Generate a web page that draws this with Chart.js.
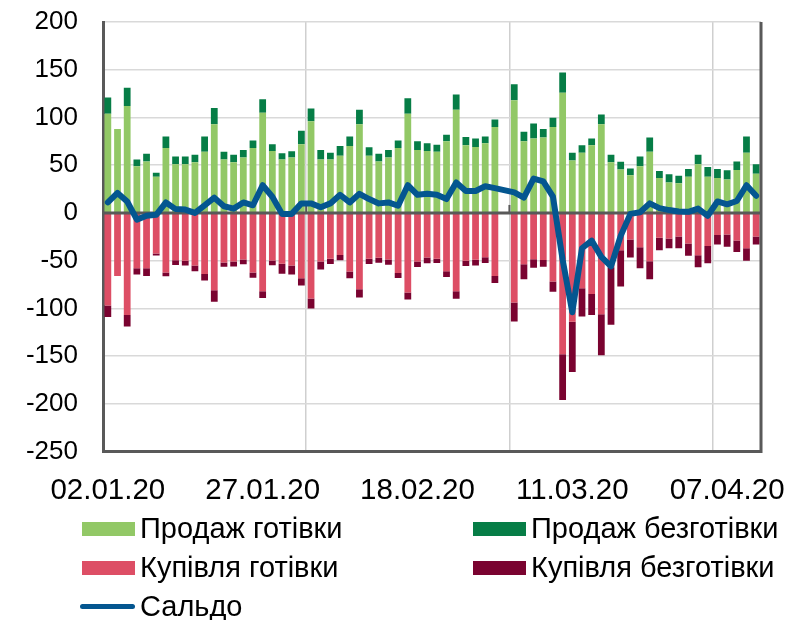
<!DOCTYPE html>
<html>
<head>
<meta charset="utf-8">
<script src="https://cdn.jsdelivr.net/npm/chart.js@4.4.0/dist/chart.umd.min.js"></script>
<style>
    html, body { margin: 0; padding: 0; background: #fff; }
    #wrap { position: relative; width: 800px; height: 620px; }
    #chart { position: absolute; left: 0; top: 0; }
    #legend {
        position: absolute; left: 82px; top: 509px;
        display: grid; grid-template-columns: 391px auto; grid-auto-rows: 39px;
        font: 29px "Liberation Sans", Arial, sans-serif; color: #000;
    }
    .legend-item { display: flex; align-items: center; white-space: nowrap; }
    .legend-box { width: 53px; height: 14px; margin-right: 5px; }
    .legend-line { width: 55px; height: 5px; border-radius: 3px; margin: 0 5px 0 -2px; }
</style>
</head>
<body>
<div id="wrap">
    <canvas id="chart" width="800" height="620"></canvas>
    <div id="legend"></div>
</div>
<script>
// Tick labels shown every 16 trading days
const tickLabels = ['02.01.20', '27.01.20', '18.02.20', '11.03.20', '07.04.20'];
const labelStep = 16;
const gridStep = 21;

// Values (mln USD), index 41 has no data
const saleCash = [104, 88, 112, 49, 54, 38, 68, 51, 51, 53, 64, 93, 56, 53, 58, 68, 105,
    65, 56, 58, 72, 96, 56, 56, 60, 70, 93, 60, 54, 58, 68, 104, 66, 65,
    64, 75, 108, 71, 69, 73, 90, null, 118, 75, 78, 79, 90, 126, 55, 63, 71,
    93, 53, 45.5, 39.6, 49, 64, 36.5, 32, 31, 38, 51, 38, 36.5, 35, 45, 63, 41];
const saleNonCash = [17, 0, 19, 7, 8, 4, 12, 8, 8, 8, 16, 17, 8, 8, 8, 8, 14,
    7, 6.5, 6.6, 14, 13.5, 10, 7, 10, 10, 15, 8.7, 8, 8, 8, 16, 9, 8,
    7.5, 7, 16, 8.5, 9, 7, 8, null, 16.7, 10, 15.6, 9, 9.7, 21, 8, 8, 7,
    10, 8, 8, 7, 10, 15, 7.5, 8.6, 8, 8, 10, 10, 9.5, 9.7, 9, 17, 10];
const buyCash = [-97, -66, -107, -58, -58, -42.5, -62.4, -49.5, -50, -55, -64, -81, -52, -51, -48.8, -62.4, -82,
    -49.8, -53.3, -55, -68.3, -89.5, -51, -48, -44, -61.3, -80, -48, -47, -48.8, -63, -83.3, -51, -46.7,
    -48, -61, -82, -50, -49, -46.5, -66, null, -93.8, -53.8, -48.6, -49.3, -71.9, -148, -114, -79, -85,
    -106, -57, -39, -27.8, -36, -50.7, -26, -26.7, -24.6, -32, -44.4, -34.7, -23, -22.6, -29, -37, -24.6];
const buyNonCash = [-12, 0, -12, -6.5, -8, -2, -4, -5, -5, -6, -6.7, -12, -4.4, -5, -5, -5.6, -7,
    -5, -10.5, -9.4, -7.7, -10.5, -8.3, -5.6, -5.6, -7, -8.7, -5.6, -5.2, -5.6, -5.2, -7.3, -5.6, -6,
    -4.5, -6, -8, -5.6, -6, -6, -7.3, null, -19.8, -15.6, -8.7, -7, -10.7, -48, -52.7, -29.5, -22,
    -43, -60, -38, -19, -22, -18.7, -13, -10.4, -12.5, -12.8, -12.5, -18, -10, -12.8, -12, -13, -8.4];
const saldo = [11, 21, 12, -7, -3, -2, 11, 4, 3.5, 0, 8, 16, 7, 4.5, 11, 8, 29,
    17, -1, -1, 10, 10, 6, 10, 19, 11, 20, 14.5, 10, 11, 7.5, 29, 19, 20,
    19, 14.5, 32, 23, 23, 28, 26, null, 21.5, 16, 36, 33, 17, -49, -104, -37, -29,
    -46, -56, -24, -1, 0.7, 10, 5, 3, 1.5, 1.2, 4.5, -3, 12, 9, 12.5, 29, 18];

const categories = saleCash.map((v, i) => i);

const fontFamily = '"Liberation Sans", Arial, sans-serif';
const axisColor = '#595959';

// Draw the zero axis (with its tick marks) above the bars, under the line
const zeroAxisPlugin = {
    id: 'zeroAxis',
    beforeDatasetDraw(chart, args) {
        if (chart.data.datasets[args.index].type !== 'line') return;
        const ctx = chart.ctx;
        const xs = chart.scales.x;
        const y0 = chart.scales.y.getPixelForValue(0);
        const area = chart.chartArea;
        ctx.save();
        ctx.strokeStyle = axisColor;
        ctx.lineWidth = 3;
        ctx.beginPath();
        ctx.moveTo(area.left, y0);
        ctx.lineTo(area.right, y0);
        ctx.stroke();
        ctx.lineWidth = 2;
        for (let i = gridStep; i < categories.length; i += gridStep) {
            const x = (xs.getPixelForValue(i - 1) + xs.getPixelForValue(i)) / 2;
            ctx.beginPath();
            ctx.moveTo(x, y0);
            ctx.lineTo(x, y0 - 8);
            ctx.stroke();
        }
        ctx.restore();
    },
    afterDraw(chart) {
        // right frame line
        const ctx = chart.ctx;
        const area = chart.chartArea;
        ctx.save();
        ctx.strokeStyle = axisColor;
        ctx.lineWidth = 3;
        ctx.beginPath();
        ctx.moveTo(area.right, area.top);
        ctx.lineTo(area.right, area.bottom + 1.5);
        ctx.stroke();
        ctx.restore();
    }
};

const barSet = (label, data, color) => ({
    type: 'bar',
    label: label,
    data: data,
    backgroundColor: color,
    borderWidth: 0,
    barPercentage: 0.7,
    categoryPercentage: 1.0,
    stack: 'flows',
    order: 1
});

const chartData = {
    labels: categories,
    datasets: [
        barSet('Продаж готівки', saleCash, '#92C866'),
        barSet('Продаж безготівки', saleNonCash, '#067D46'),
        barSet('Купівля готівки', buyCash, '#DD4E65'),
        barSet('Купівля безготівки', buyNonCash, '#7A0330'),
        {
            type: 'line',
            label: 'Сальдо',
            data: saldo,
            borderColor: '#045690',
            backgroundColor: '#045690',
            borderWidth: 6,
            pointRadius: 0,
            tension: 0,
            spanGaps: true,
            borderJoinStyle: 'round',
            borderCapStyle: 'round',
            stack: 'saldo',
            order: 0
        }
    ]
};

const chart = new Chart(document.getElementById('chart'), {
    data: chartData,
    plugins: [zeroAxisPlugin],
    options: {
        responsive: false,
        animation: false,
        layout: { padding: { left: 0, right: 39, top: 22, bottom: 89 } },
        plugins: {
            legend: { display: false },
            tooltip: { enabled: false }
        },
        scales: {
            x: {
                stacked: true,
                grid: {
                    offset: true,
                    drawTicks: false,
                    color: ctx => (ctx.index > 0 && ctx.index % gridStep === 0) ? '#cfcfcf' : 'rgba(0,0,0,0)',
                    lineWidth: 1.5
                },
                border: { display: true, color: axisColor, width: 3 },
                ticks: {
                    autoSkip: false,
                    maxRotation: 0,
                    minRotation: 0,
                    padding: 22,
                    color: '#000',
                    font: { family: fontFamily, size: 29.5 },
                    callback: (v, i) => i % labelStep === 0 ? tickLabels[i / labelStep] : ''
                }
            },
            y: {
                stacked: true,
                min: -250,
                max: 200,
                afterFit: s => {
                    s.width = 103;
                    // keep the label padding from pushing the plot down
                    s.paddingTop = 16;
                    s.paddingBottom = 16;
                },
                grid: {
                    drawTicks: false,
                    color: ctx => ctx.tick.value === 0 ? 'rgba(0,0,0,0)' : '#d9d9d9',
                    lineWidth: 1.5
                },
                border: { display: true, color: axisColor, width: 3 },
                ticks: {
                    stepSize: 50,
                    padding: 25,
                    color: '#000',
                    font: { family: fontFamily, size: 26 }
                }
            }
        }
    }
});

// HTML legend in two columns, built from the chart datasets
const legendEl = document.getElementById('legend');
chart.data.datasets.forEach(ds => {
    const item = document.createElement('div');
    item.className = 'legend-item';
    const mark = document.createElement('span');
    mark.className = ds.type === 'line' ? 'legend-line' : 'legend-box';
    mark.style.background = ds.type === 'line' ? ds.borderColor : ds.backgroundColor;
    const text = document.createElement('span');
    text.textContent = ds.label;
    item.appendChild(mark);
    item.appendChild(text);
    legendEl.appendChild(item);
});
</script>
</body>
</html>
